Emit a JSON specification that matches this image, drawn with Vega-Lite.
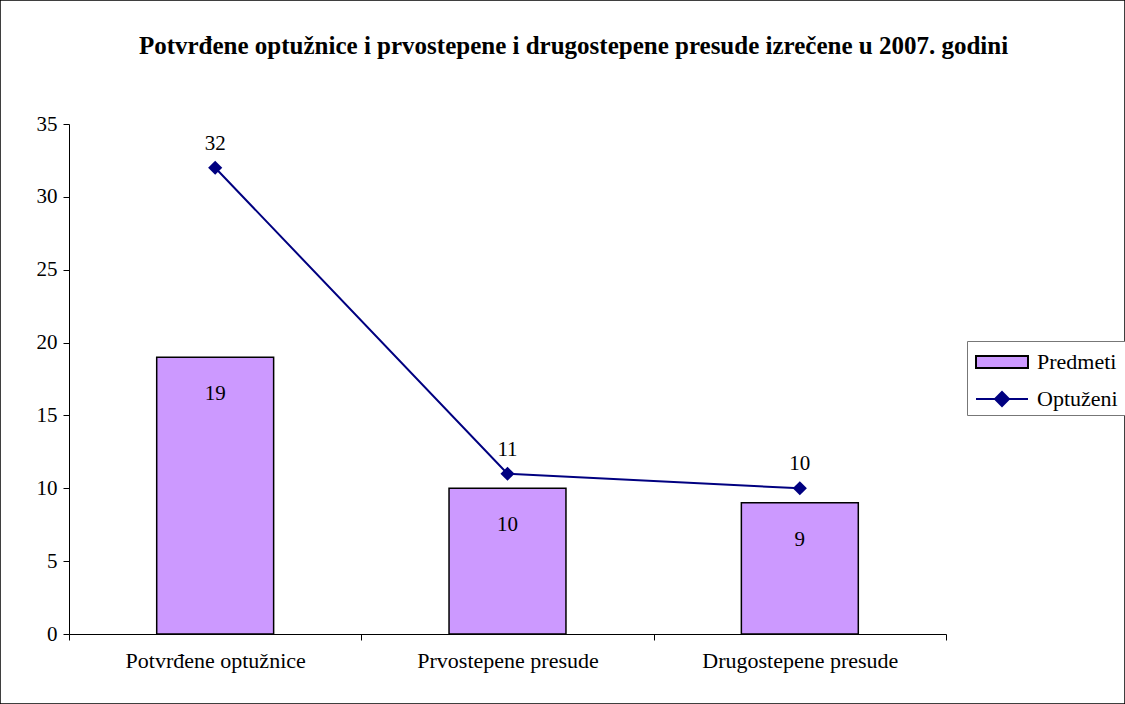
{
  "$schema": "https://vega.github.io/schema/vega-lite/v6.json",
  "width": 1125,
  "height": 704,
  "padding": 0,
  "autosize": "none",
  "background": "white",
  "config": {
    "view": {"stroke": "black", "strokeWidth": 1.5},
    "font": "Liberation Serif"
  },
  "title": {
    "text": "Potvrđene optužnice i prvostepene i drugostepene presude izrečene u 2007. godini",
    "font": "Liberation Serif",
    "fontSize": 25,
    "fontWeight": "bold",
    "anchor": "middle",
    "frame": "group",
    "dx": 11,
    "offset": -59,
    "color": "black"
  },
  "data": {
    "values": [
      {"cat": "Potvrđene optužnice", "Predmeti": 19, "Optuzeni": 32},
      {"cat": "Prvostepene presude", "Predmeti": 10, "Optuzeni": 11},
      {"cat": "Drugostepene presude", "Predmeti": 9, "Optuzeni": 10}
    ]
  },
  "resolve": {"scale": {"color": "independent"}, "legend": {"color": "independent"}},
  "encoding": {
    "x": {
      "field": "cat",
      "type": "nominal",
      "sort": null,
      "title": null,
      "scale": {"range": [69, 946], "paddingInner": 0, "paddingOuter": 0},
      "axis": {
        "offset": -70,
        "tickBand": "extent",
        "labelAngle": 0,
        "labelLimit": 400,
        "labelFont": "Liberation Serif",
        "labelFontSize": 22,
        "labelColor": "black",
        "labelPadding": 10,
        "tickSize": 6,
        "tickColor": "black",
        "domainColor": "black",
        "grid": false
      }
    }
  },
  "layer": [
    {
      "mark": {"type": "bar", "width": {"band": 0.4}, "fill": "#CC99FF", "stroke": "black", "strokeWidth": 1.5},
      "encoding": {
        "y": {
          "field": "Predmeti",
          "type": "quantitative",
          "title": null,
          "scale": {"domain": [0, 35], "range": [634, 124]},
          "axis": {
            "offset": -69,
            "values": [0, 5, 10, 15, 20, 25, 30, 35],
            "labelFont": "Liberation Serif",
            "labelFontSize": 21,
            "labelColor": "black",
            "labelPadding": 6,
            "tickSize": 6,
            "tickColor": "black",
            "domainColor": "black",
            "grid": false
          }
        },
        "color": {
          "datum": "Predmeti",
          "type": "nominal",
          "scale": {"domain": ["Predmeti"], "range": ["#CC99FF"]},
          "legend": {
            "title": " ",
            "titleOrient": "bottom",
            "titleFontSize": 21,
            "titlePadding": 13,
            "orient": "none",
            "legendX": 967,
            "legendY": 341,
            "padding": 8,
            "strokeColor": "#777",
            "fillColor": "white",
            "labelFont": "Liberation Serif",
            "labelFontSize": 22,
            "labelColor": "black",
            "symbolType": "M-1,-0.5H3.333V0.5H-1Z",
            "symbolSize": 576,
            "symbolStrokeColor": "black",
            "symbolStrokeWidth": 2,
            "symbolOpacity": 1,
            "labelOffset": 36
          }
        }
      }
    },
    {
      "mark": {"type": "text", "baseline": "middle", "dy": 37, "fontSize": 21, "font": "Liberation Serif", "color": "black"},
      "encoding": {
        "y": {"field": "Predmeti", "type": "quantitative"},
        "text": {"field": "Predmeti", "type": "quantitative"}
      }
    },
    {
      "mark": {"type": "line", "color": "#000080", "strokeWidth": 2, "point": {"shape": "diamond", "size": 200, "filled": true, "color": "#000080", "opacity": 1}},
      "encoding": {
        "y": {"field": "Optuzeni", "type": "quantitative"},
        "color": {
          "datum": "Optuženi",
          "type": "nominal",
          "scale": {"domain": ["Optuženi"], "range": ["#000080"]},
          "legend": {
            "title": null,
            "orient": "none",
            "legendX": 967,
            "legendY": 378,
            "padding": 8,
            "labelFont": "Liberation Serif",
            "labelFontSize": 22,
            "labelColor": "black",
            "symbolType": "M-1,0H3.333M1.167,-0.583L1.75,0L1.167,0.583L0.583,0Z",
            "symbolSize": 576,
            "symbolFillColor": "#000080",
            "symbolStrokeColor": "#000080",
            "symbolStrokeWidth": 2,
            "symbolOpacity": 1,
            "labelOffset": 36
          }
        }
      }
    },
    {
      "mark": {"type": "text", "baseline": "middle", "dy": -24, "fontSize": 21, "font": "Liberation Serif", "color": "black"},
      "encoding": {
        "y": {"field": "Optuzeni", "type": "quantitative"},
        "text": {"field": "Optuzeni", "type": "quantitative"}
      }
    }
  ]
}
